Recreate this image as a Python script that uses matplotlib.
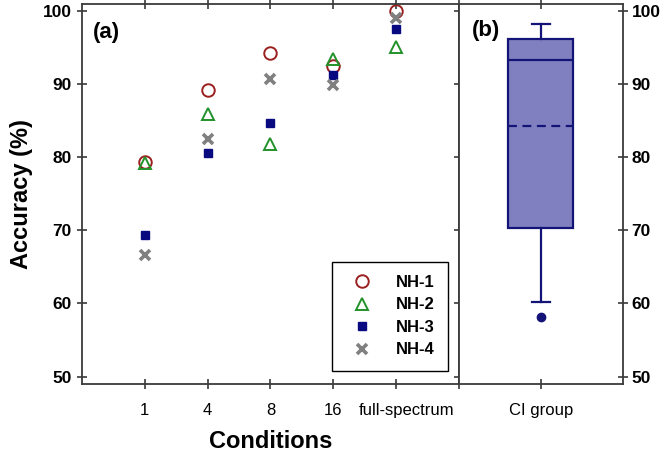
import matplotlib
matplotlib.use("Agg")
import matplotlib.pyplot as plt
import matplotlib.transforms as mtransforms

plt.rcParams['font.family'] = ['Liberation Sans', 'DejaVu Sans']

# conditions for the NH listeners (panel a)
conditions = ["1", "4", "8", "16", "full-spectrum"]
nh1 = [79.3, 89.2, 94.2, 92.5, 100.0]
nh2 = [79.2, 85.9, 81.8, 93.4, 95.1]
nh3 = [69.4, 80.5, 84.6, 91.2, 97.5]
nh4 = [66.6, 82.5, 90.7, 89.9, 99.0]

# CI group box summary (panel b)
ci_label = "CI group"
ci_whislo, ci_q1, ci_med, ci_mean, ci_q3, ci_whishi = 60.2, 70.3, 93.3, 84.3, 96.1, 98.2
ci_fliers = [58.1]

yticks = [50, 60, 70, 80, 90, 100]
ylim = (49, 100.9)
spine_col = "#3a3a3a"

fig = plt.figure(figsize=(6.66, 4.55), dpi=100)
ax = fig.add_axes([0.1231, 0.156, 0.5661, 0.835])
bx = fig.add_axes([0.6892, 0.156, 0.2455, 0.835])

xs = list(range(len(conditions)))
ax.plot(xs, nh1, 'o', ms=9, mfc='none', mec='#9b1f1f', mew=1.4, ls='none', label='NH-1')
ax.plot(xs, nh2, '^', ms=9, mfc='none', mec='#22922a', mew=1.4, ls='none', label='NH-2')
ax.plot(xs, nh3, 's', ms=5.5, mfc='#0a0a80', mec='#0a0a80', ls='none', label='NH-3')
ax.plot(xs, nh4, 'x', ms=7, mec='#808080', mew=2.6, ls='none', label='NH-4')

ax.set_xlim(-1, 5)
ax.set_ylim(*ylim)
ax.set_xticks(xs + [5])
ax.set_xticklabels(conditions + [""], fontsize=12)
ax.set_yticks(yticks)
ax.set_yticklabels([str(v) for v in yticks], fontsize=12.5, fontweight='bold')
ax.tick_params(axis='y', direction='inout', length=7, width=1.2, color=spine_col,
               left=True, right=True, pad=4)
ax.tick_params(axis='x', direction='inout', length=7, width=1.2, color=spine_col,
               top=True, bottom=True, pad=10)
ax.set_ylabel("Accuracy (%)", fontsize=17, fontweight='bold', labelpad=7)
ax.set_xlabel("Conditions", fontsize=17, fontweight='bold', labelpad=9)
ax.text(0.03, 0.925, "(a)", transform=ax.transAxes, fontsize=16, fontweight='bold',
        ha='left', va='center')

# nudge the long label to the right as in the original
shift = mtransforms.ScaledTranslation(10 / 100, 0, fig.dpi_scale_trans)
lab = ax.get_xticklabels()[4]
lab.set_transform(lab.get_transform() + shift)

leg = ax.legend(loc='lower right', bbox_to_anchor=(0.97, 0.035), borderaxespad=0,
                fancybox=False, edgecolor='black', framealpha=1, handlelength=2,
                handletextpad=1.0, labelspacing=0.45, borderpad=0.8,
                prop={'weight': 'bold', 'size': 12})
leg.get_frame().set_linewidth(1.0)

stats = [{
    'label': ci_label, 'whislo': ci_whislo, 'q1': ci_q1, 'med': ci_med,
    'mean': ci_mean, 'q3': ci_q3, 'whishi': ci_whishi, 'fliers': ci_fliers,
}]
edge = '#141478'
bx.bxp(stats, positions=[1], widths=0.4, capwidths=0.11, showmeans=True, meanline=True,
       patch_artist=True,
       boxprops=dict(facecolor='#8080c0', edgecolor=edge, linewidth=1.6),
       medianprops=dict(color=edge, linewidth=1.6),
       meanprops=dict(color=edge, linewidth=1.6, linestyle=(0, (4, 2.5))),
       whiskerprops=dict(color=edge, linewidth=1.6),
       capprops=dict(color=edge, linewidth=1.6),
       flierprops=dict(marker='o', markersize=6, markerfacecolor=edge, markeredgecolor=edge))
bx.set_xlim(0.5, 1.5)
bx.set_ylim(*ylim)
bx.set_xticks([1])
bx.set_xticklabels([ci_label], fontsize=12)
bx.set_yticks(yticks)
bx.yaxis.tick_right()
bx.set_yticklabels([str(v) for v in yticks], fontsize=12.5, fontweight='bold')
bx.tick_params(axis='y', direction='inout', length=7, width=1.2, color=spine_col,
               left=False, right=True, labelleft=False, labelright=True, pad=3)
bx.tick_params(axis='x', direction='inout', length=7, width=1.2, color=spine_col,
               top=True, bottom=True, pad=10)
bx.text(0.08, 0.93, "(b)", transform=bx.transAxes, fontsize=16, fontweight='bold',
        ha='left', va='center')

for a in (ax, bx):
    for s in a.spines.values():
        s.set_color(spine_col)
        s.set_linewidth(1.3)

fig.savefig("out.png", dpi=100)
